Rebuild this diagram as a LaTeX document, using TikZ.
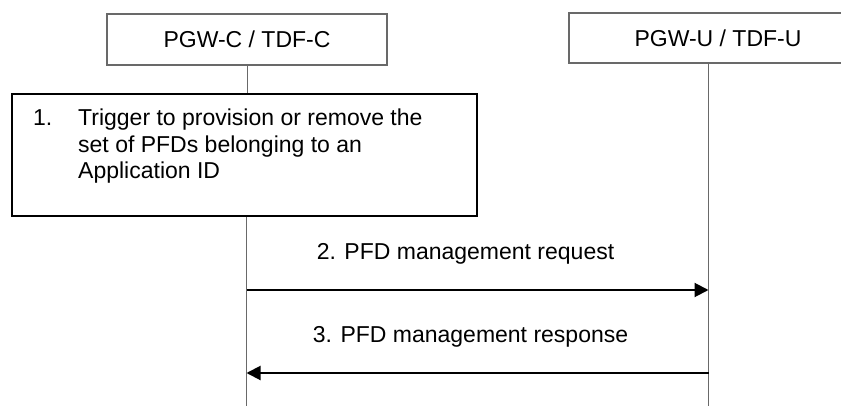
\documentclass[tikz,border=0pt]{standalone}
\usepackage{fontspec}
\setmainfont{Liberation Sans}
\usetikzlibrary{arrows.meta,positioning}
\definecolor{linegray}{RGB}{105,105,105}

\begin{document}
\begin{tikzpicture}[x=1pt,y=-1pt,
  font=\fontsize{23}{26.5}\selectfont,
  entity/.style={draw=linegray,line width=1.3pt,minimum height=51pt,inner sep=0pt},
  stepbox/.style={draw,line width=2pt,inner sep=0pt},
  steptext/.style={anchor=north west,inner sep=0pt,align=left},
  lifeline/.style={draw=linegray,line width=1pt},
  msg/.style={line width=2pt,-{Triangle[length=14pt,width=14pt]}},
  msglabel/.style={anchor=base,yshift=31pt}]
\useasboundingbox (0,0) rectangle (841,406);
% participants
\node[entity,minimum width=280pt] (pgwc) at (247,39.5) {PGW-C / TDF-C};
\node[entity,minimum width=298pt,minimum height=50pt] (pgwu) at (718,38) {PGW-U / TDF-U};
\coordinate (cend) at (246.5,406);
\coordinate (uend) at (708.5,406);
% step 1
\node[stepbox,minimum width=465pt,minimum height=122pt] (trigger) at (244.5,155) {};
\node[steptext] (num) at (33,109) {1.};
\node[steptext] (triggertxt) at (78,109) {Trigger to provision or remove the\\set of PFDs belonging to an\\Application ID};
% lifelines
\draw[lifeline] (pgwc.south) -- (trigger.north -| pgwc.south);
\draw[lifeline] (trigger.south -| cend) -- (cend);
\draw[lifeline] (pgwu.south -| uend) -- (uend);
% messages
\coordinate (reqc) at (246.5,290);
\coordinate (requ) at (708.5,290);
\coordinate (resc) at (246.5,373);
\coordinate (resu) at (708.5,373);
\draw[msg] (reqc) -- node[msglabel,xshift=-12pt] (reqlabel) {2. PFD management request} (requ);
\draw[msg] (resu) -- node[msglabel,xshift=-7pt] (reslabel) {3. PFD management response} (resc);
\end{tikzpicture}
\end{document}
